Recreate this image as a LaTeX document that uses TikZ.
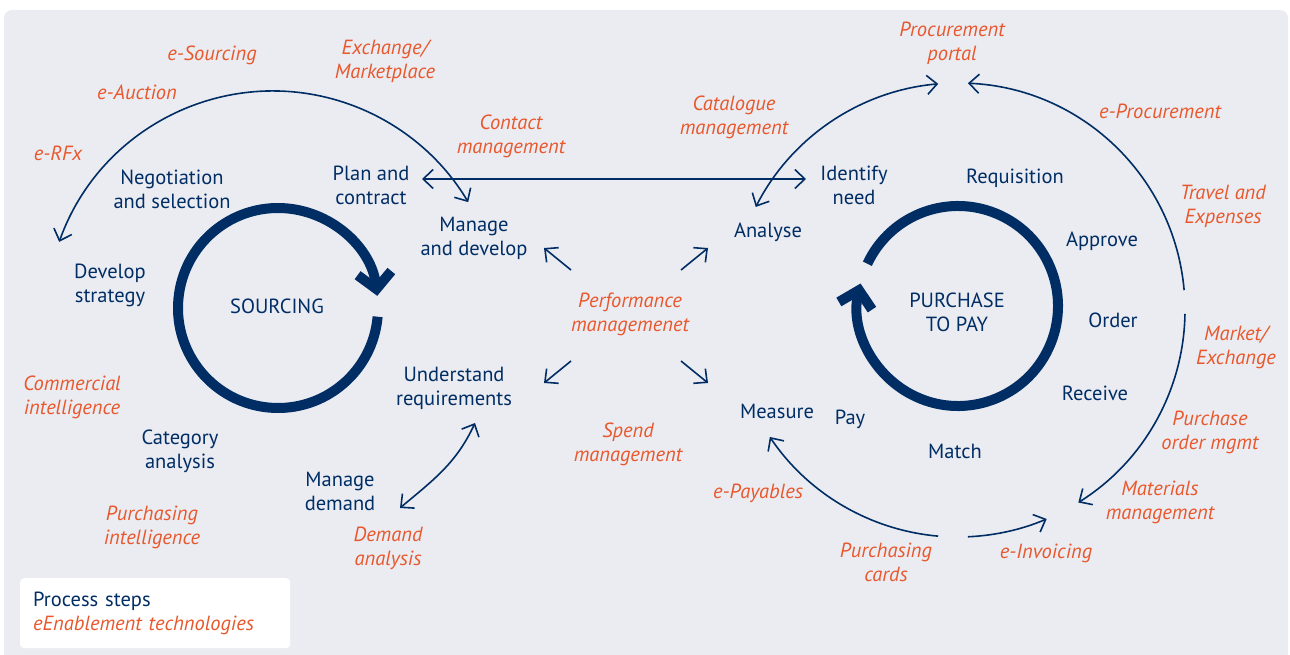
\documentclass[tikz,border=0pt]{standalone}
\usepackage{fontspec}
\setmainfont{PT Sans}
\usetikzlibrary{arrows.meta}
\definecolor{navy}{HTML}{002D64}
\definecolor{flame}{HTML}{E8582C}
\definecolor{paper}{HTML}{EBECF2}

\begin{document}
\begin{tikzpicture}[
        x=1pt, y=1pt,
        proc/.style={text=navy, align=center, inner sep=0pt, font=\fontsize{20.5}{24}\selectfont},
        tech/.style={text=flame, align=center, inner sep=0pt, font=\fontsize{20.5}{24}\selectfont\itshape},
        ring/.style={draw=navy, line width=10pt, -{Straight Barb[length=16pt,width=34pt,line cap=butt,line join=miter]}},
        link/.style={draw=navy, line width=1.6pt, -{Straight Barb[length=10pt,width=19pt]}},
        twoway/.style={link, {Straight Barb[length=10pt,width=19pt]}-{Straight Barb[length=10pt,width=19pt]}}
    ]
    \useasboundingbox (0,0) rectangle (1290,-655);
    \fill[paper, rounded corners=8pt] (4,-10) rectangle (1288,-665);

    % sourcing side
    \node[proc] (neg)  at (172,-189) {Negotiation\\and selection};
    \node[proc] (plan) at (371,-185) {Plan and\\contract};
    \node[proc] (dev)  at (110,-285) {Develop\\strategy};
    \node[proc] (src)  at (277,-306) {SOURCING};
    \node[proc] (mng)  at (474,-238) {Manage\\and develop};
    \node[proc] (und)  at (454,-388) {Understand\\requirements};
    \node[proc] (cat)  at (180,-451) {Category\\analysis};
    \node[proc] (dmd)  at (340,-491) {Manage\\demand};

    % purchase to pay side
    \node[proc] (idn)   at (854,-185) {Identify\\need};
    \node[proc] (anl)   at (768,-232) {Analyse};
    \node[proc] (req)   at (1015,-178) {Requisition};
    \node[proc] (apr)   at (1102,-241) {Approve};
    \node[proc] (ord)   at (1113,-320) {Order};
    \node[proc] (rcv)   at (1095,-393) {Receive};
    \node[proc] (match) at (955,-451) {Match};
    \node[proc] (pay)   at (850,-419) {Pay};
    \node[proc] (msr)   at (777,-411) {Measure};
    \node[proc] (p2p)   at (957,-312) {PURCHASE\\TO PAY};

    % eEnablement technologies
    \node[tech] (esrc)   at (212,-55)  {e-Sourcing};
    \node[tech] (exch)   at (385,-61)  {Exchange/\\Marketplace};
    \node[tech] (eauc)   at (137,-92)  {e-Auction};
    \node[tech] (erfx)   at (58,-153)  {e-RFx};
    \node[tech] (cont)   at (511,-136) {Contact\\management};
    \node[tech] (catl)   at (734,-117) {Catalogue\\management};
    \node[tech] (portal) at (952,-43)  {Procurement\\portal};
    \node[tech] (eproc)  at (1160,-111) {e-Procurement};
    \node[tech] (travel) at (1223,-206) {Travel and\\Expenses};
    \node[tech] (mkt)    at (1236,-347) {Market/\\Exchange};
    \node[tech] (pom)    at (1210,-432) {Purchase\\order mgmt};
    \node[tech] (matm)   at (1160,-502) {Materials\\management};
    \node[tech] (einv)   at (1046,-553) {e-Invoicing};
    \node[tech] (pcard)  at (886,-562)  {Purchasing\\cards};
    \node[tech] (epay)   at (758,-493)  {e-Payables};
    \node[tech] (spend)  at (628,-444)  {Spend\\management};
    \node[tech] (perf)   at (630,-314)  {Performance\\managemenet};
    \node[tech] (comm)   at (72,-397)   {Commercial\\intelligence};
    \node[tech] (pint)   at (152,-527)  {Purchasing\\intelligence};
    \node[tech] (dana)   at (388,-548)  {Demand\\analysis};

    % the two cycles
    \coordinate (sc) at (278,-308);
    \coordinate (pc) at (958,-306);
    \coordinate (srcstart) at ([shift={(-5:100pt)}]sc);
    \coordinate (p2pstart) at ([shift={(155:100pt)}]pc);
    \draw[ring] (srcstart) arc[start angle=-5, end angle=-353, radius=100pt];
    \draw[ring] (p2pstart) arc[start angle=155, end angle=-193, radius=100pt];

    % outer arcs
    \coordinate (so) at (273,-318);
    \coordinate (po) at (958,-310);
    \coordinate (devtip)  at ([shift={(160.4:227pt)}]so);
    \coordinate (anltip)  at ([shift={(153:227pt)}]po);
    \coordinate (eprocft) at ([shift={(5:227pt)}]po);
    \coordinate (mktft)   at ([shift={(-1:227pt)}]po);
    \coordinate (einvft)  at ([shift={(-87.5:227pt)}]po);
    \coordinate (epayft)  at ([shift={(-95:227pt)}]po);
    \draw[twoway] (devtip) arc[start angle=160.4, end angle=30.7, radius=227pt];
    \draw[twoway] (anltip) arc[start angle=153, end angle=95, radius=227pt];
    \draw[link] (eprocft) arc[start angle=5, end angle=87.5, radius=227pt];
    \draw[link] (mktft) arc[start angle=-1, end angle=-58, radius=227pt];
    \draw[link] (einvft) arc[start angle=-87.5, end angle=-67, radius=227pt];
    \draw[link] (epayft) arc[start angle=-95, end angle=-146, radius=227pt];

    % straight links
    \coordinate (plantip) at (422,-179);
    \coordinate (idntip)  at (806,-179);
    \draw[twoway] (plantip) -- (idntip);

    \coordinate (dmdtip) at (400,-508);
    \coordinate (undtip) at (475,-423);
    \draw[twoway] (dmdtip) to[out=40, in=-115] (undtip);

    \coordinate (p1) at (571,-270); \coordinate (q1) at (544,-248);
    \coordinate (p2) at (681,-270); \coordinate (q2) at (708,-248);
    \coordinate (p3) at (571,-361); \coordinate (q3) at (544,-383);
    \coordinate (p4) at (681,-361); \coordinate (q4) at (708,-383);
    \foreach \i in {1,...,4}
        \draw[link] (p\i) -- (q\i);

    % legend
    \node[fill=white, rounded corners=4pt, anchor=north west, minimum width=270pt, minimum height=70pt,
        text width=244pt, align=left, font=\fontsize{20.5}{24}\selectfont] (key) at (20,-578)
        {\textcolor{navy}{Process steps}\\\textcolor{flame}{\itshape eEnablement technologies}};
\end{tikzpicture}
\end{document}
